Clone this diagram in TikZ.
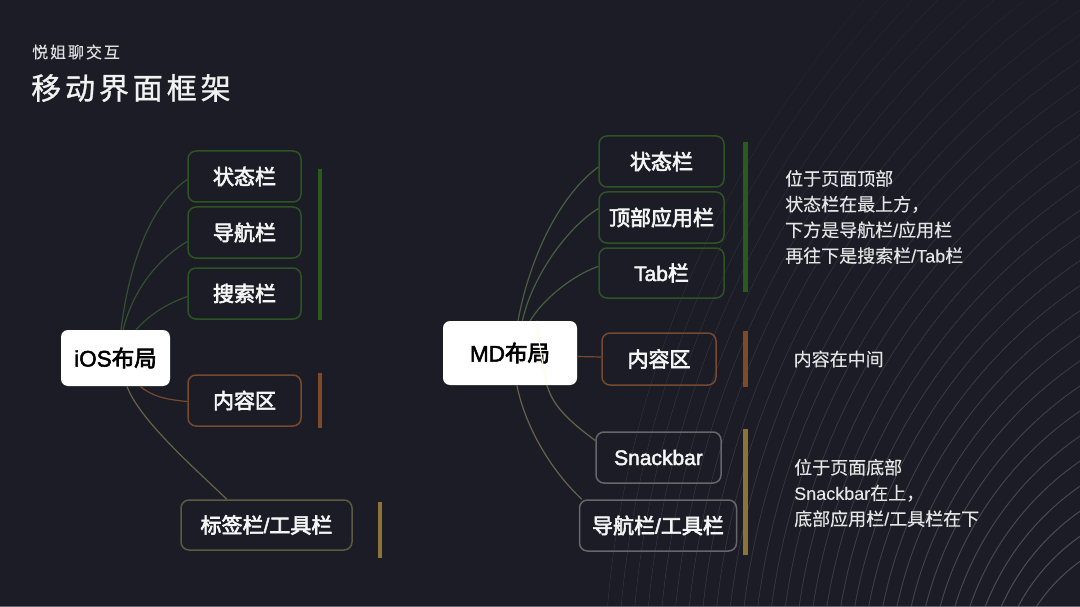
\documentclass[tikz,border=0pt]{standalone}
\usepackage{fontspec}
\newfontfamily\cjk[FakeBold=0.15]{Noto Sans CJK SC}
\newfontfamily\cjkmid[FakeBold=3]{Noto Sans CJK SC}
\newfontfamily\cjktitle[LetterSpace=13,FakeBold=1]{Noto Sans CJK SC}
\newfontfamily\cjksub[LetterSpace=12,FakeBold=0.3]{Noto Sans CJK SC}
\newfontfamily\lat[FakeBold=0.1]{Liberation Sans}
\newfontfamily\latmid[FakeBold=2.2]{Liberation Sans}
\definecolor{bgdark}{HTML}{1B1C25}
\definecolor{greenbox}{HTML}{2D5424}
\definecolor{greenbar}{HTML}{2A5A1C}
\definecolor{greenline}{HTML}{34502E}
\definecolor{mdline}{HTML}{48603F}
\definecolor{brownbox}{HTML}{774A30}
\definecolor{brownbar}{HTML}{7F4A2A}
\definecolor{olivebox}{HTML}{5C5A42}
\definecolor{oliveline}{HTML}{67634A}
\definecolor{goldbar}{HTML}{8C7438}
\definecolor{graybox}{HTML}{66676C}
\begin{document}
\begin{tikzpicture}[
    x=1pt, y=-1pt,
    barbox/.style={draw, line width=1.5pt, rounded corners=8pt, inner sep=0pt, text=white!96!black,
        font=\fontsize{21}{25}\selectfont\cjkmid},
    rootbox/.style={fill=white, rounded corners=7pt, inner sep=0pt, text=black,
        font=\fontsize{22.5}{27}\selectfont\cjkmid},
    link/.style={line width=1.2pt},
    side/.style={line width=4.5pt},
    desc/.style={anchor=west, align=left, inner sep=0pt, text=white!90!black,
        font=\fontsize{18}{25.7}\selectfont\cjk}]

\useasboundingbox (0,0) rectangle (1080,607);
\fill[bgdark] (0,0) rectangle (1080,607);

\foreach \r in {170,200,...,1070}{
    \pgfmathsetmacro{\cx}{1228+(\r-260)*0.55}
    \begin{scope}
    \clip (0,0) rectangle (1080,607);
    \draw[white, opacity=0.22, line width=1pt] (\cx,700) circle[radius=\r];
    \end{scope}
}
\foreach \d in {80,100,...,700}{
    \fill[bgdark, opacity=0.045, even odd rule] (0,0) rectangle (1080,607) (1080,607) circle[radius=\d];
}
\fill[graybox] (0,605.5) rectangle (1080,607);

\node[anchor=west, inner sep=0pt, text=white!88!black, font=\fontsize{16}{18}\selectfont\cjksub] (sub) at (32,52) {悦姐聊交互};
\node[anchor=west, inner sep=0pt, text=white!95!black, font=\fontsize{30}{34}\selectfont\cjktitle] (title) at (31,88) {移动界面框架};

\node[rootbox, minimum width=109, minimum height=56] (ios) at (115.5,358) {{\latmid iOS}布局};
\node[barbox, draw=greenbox, minimum width=113, minimum height=51] (iosa) at (244.5,176.5) {状态栏};
\node[barbox, draw=greenbox, minimum width=113, minimum height=51] (iosb) at (244.5,232.5) {导航栏};
\node[barbox, draw=greenbox, minimum width=113, minimum height=51] (iosc) at (244.5,293.5) {搜索栏};
\node[barbox, draw=brownbox, minimum width=113, minimum height=51] (iosd) at (244.5,400.5) {内容区};
\node[barbox, draw=olivebox, minimum width=171, minimum height=50] (iose) at (266.5,525) {标签栏{\latmid /}工具栏};

\draw[link, greenline] (ios.79) .. controls +(8,-65) and +(-37,25) .. (iosa.183);
\draw[link, greenline] (ios.75) .. controls +(10,-40) and +(-30,18) .. (iosb.189);
\draw[link, greenline] (ios.54) .. controls +(12,-13) and +(-25,9) .. (iosc.183);
\draw[link, brownbox] (ios.-49) .. controls +(12,10) and +(-22,-2) .. (iosd.181);
\draw[link, oliveline] (ios.-68) .. controls +(12,32) and +(-40,-38) .. (iose.147);

\draw[side, greenbar] (320,169) -- (320,320);
\draw[side, brownbar] (320,373) -- (320,428);
\draw[side, goldbar] (380,502) -- (380,558);

\node[rootbox, minimum width=134, minimum height=64] (md) at (510,353) {{\latmid MD}布局};
\node[barbox, draw=greenbox, minimum width=125, minimum height=51] (mda) at (661.5,161.5) {状态栏};
\node[barbox, draw=greenbox, minimum width=125, minimum height=51] (mdb) at (661.5,217.5) {顶部应用栏};
\node[barbox, draw=greenbox, minimum width=125, minimum height=50] (mdc) at (661.5,273) {{\latmid Tab}栏};
\node[barbox, draw=brownbox, minimum width=114, minimum height=52] (mdd) at (659,359) {内容区};
\node[barbox, draw=graybox, minimum width=125, minimum height=51, font=\fontsize{21}{25}\selectfont\latmid] (mde) at (658.5,457.5) {Snackbar};
\node[barbox, draw=graybox, minimum width=157, minimum height=51] (mdf) at (658,525.5) {导航栏{\latmid /}工具栏};

\draw[link, mdline] (md.76) .. controls +(12,-65) and +(-38,28) .. (mda.185);
\draw[link, mdline] (md.69) .. controls +(10,-45) and +(-30,18) .. (mdb.172);
\draw[link, mdline] (md.58) .. controls +(12,-20) and +(-28,10) .. (mdc.174);
\draw[link, brownbox] (md.-3) -- (mdd.178);
\draw[link, yellow!12!white] (md.50) .. controls +(1,20) and +(-4,-20) .. (md.-41);
\draw[link, oliveline] (md.-41) .. controls +(6,22) and +(-24,-18) .. (mde.165);
\draw[link, oliveline] (md.-78) .. controls +(8,40) and +(-32,-30) .. (mdf.161);

\draw[side, greenbar] (745.5,142) -- (745.5,292);
\draw[side, brownbar] (745.5,331) -- (745.5,387);
\draw[side, goldbar] (745.5,429) -- (745.5,555);

\node[desc] (desctop) at (785,217) {位于页面顶部\\状态栏在最上方，\\下方是导航栏{\lat /}应用栏\\再往下是搜索栏{\lat /Tab}栏};
\node[desc] (descmid) at (793.5,359) {内容在中间};
\node[desc] (descbot) at (794,493) {位于页面底部\\{\lat Snackbar}在上，\\底部应用栏{\lat /}工具栏在下};

\end{tikzpicture}
\end{document}
